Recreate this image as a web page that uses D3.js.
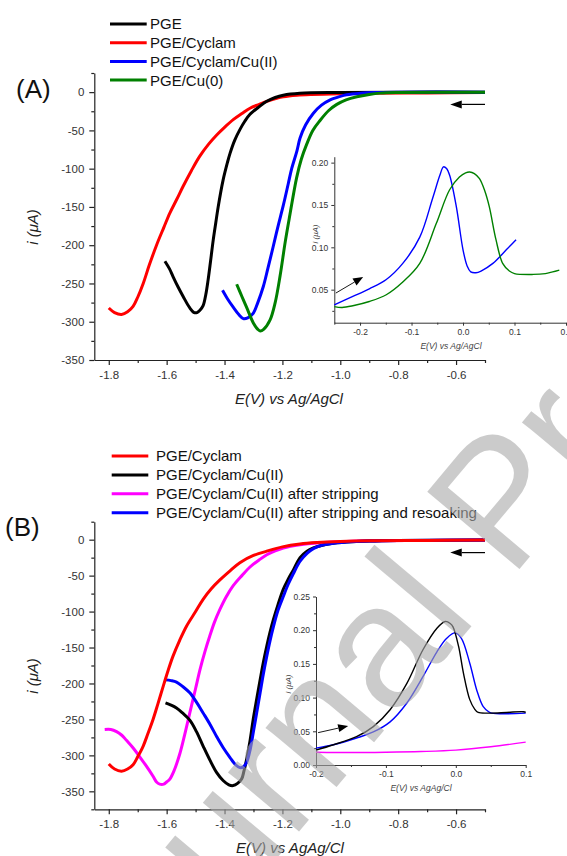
<!DOCTYPE html>
<html><head><meta charset="utf-8">
<script src="https://cdn.jsdelivr.net/npm/d3@7"></script>
<style>
html,body{margin:0;padding:0;background:#fff;}
svg{display:block;font-family:"Liberation Sans",Arial,Helvetica,sans-serif;}
</style></head><body>
<svg id="chart" width="567" height="856"></svg>
<script>
// ---------- Panel A: linear sweep voltammograms (E in V, i in µA) ----------
const aPGE = [[-1.606,-221],[-1.59,-231],[-1.578,-241],[-1.56,-255],[-1.543,-267],[-1.52,-282],[-1.505,-288],[-1.495,-288],[-1.485,-285],[-1.474,-279],[-1.465,-265],[-1.457,-246],[-1.448,-220],[-1.439,-193],[-1.43,-170],[-1.422,-150],[-1.405,-115],[-1.39,-92],[-1.381,-80],[-1.365,-63],[-1.347,-49],[-1.33,-38],[-1.312,-29],[-1.28,-19],[-1.254,-12],[-1.225,-7],[-1.197,-4],[-1.14,-1.5],[-1.0,-0.5],[-0.8,0],[-0.5,0]];
const aCyclam = [[-1.80,-282],[-1.78,-288],[-1.756,-290.5],[-1.735,-287],[-1.716,-280],[-1.70,-268],[-1.681,-250],[-1.66,-226],[-1.635,-200],[-1.61,-177],[-1.589,-158],[-1.565,-140],[-1.543,-123],[-1.515,-103],[-1.486,-84],[-1.455,-68],[-1.427,-56],[-1.40,-46],[-1.37,-36],[-1.34,-28],[-1.312,-21],[-1.28,-16],[-1.254,-12],[-1.22,-8],[-1.197,-6],[-1.15,-4],[-1.10,-3],[-1.0,-2],[-0.9,-1.5],[-0.7,-1],[-0.5,-0.5]];
const aCyclamCu2 = [[-1.407,-259],[-1.39,-270],[-1.37,-281],[-1.35,-291],[-1.335,-296],[-1.32,-295],[-1.301,-289],[-1.285,-275],[-1.266,-254],[-1.25,-230],[-1.232,-202],[-1.215,-175],[-1.197,-148],[-1.18,-120],[-1.168,-100],[-1.15,-77],[-1.139,-60],[-1.12,-43],[-1.093,-27.5],[-1.065,-17],[-1.035,-10],[-1.0,-5.5],[-0.978,-3.5],[-0.93,-1.5],[-0.885,-0.5],[-0.8,0],[-0.5,0]];
const aCu0 = [[-1.358,-251],[-1.34,-267],[-1.324,-281],[-1.30,-302],[-1.285,-310],[-1.277,-312],[-1.265,-310],[-1.243,-298],[-1.225,-275],[-1.208,-240],[-1.19,-195],[-1.174,-160],[-1.151,-112],[-1.135,-88],[-1.116,-68],[-1.095,-50],[-1.07,-37],[-1.04,-24],[-1.012,-16],[-0.98,-10],[-0.943,-6],[-0.9,-3],[-0.862,-1.3],[-0.8,-0.5],[-0.5,0]];

// Panel A inset: anodic stripping (E in V, i in µA)
const aInsetCyclamCu2 = [[-0.25,0.032],[-0.214,0.042],[-0.182,0.051],[-0.149,0.062],[-0.117,0.081],[-0.084,0.112],[-0.059,0.158],[-0.045,0.185],[-0.038,0.195],[-0.032,0.193],[-0.026,0.185],[-0.013,0.148],[0.0,0.097],[0.008,0.078],[0.015,0.071],[0.025,0.070],[0.035,0.072],[0.058,0.081],[0.084,0.097],[0.103,0.109]];
const aInsetCu0 = [[-0.25,0.030],[-0.235,0.029],[-0.214,0.031],[-0.182,0.036],[-0.149,0.044],[-0.117,0.059],[-0.084,0.081],[-0.052,0.128],[-0.026,0.168],[-0.007,0.183],[0.005,0.188],[0.013,0.189],[0.022,0.187],[0.032,0.181],[0.042,0.167],[0.051,0.148],[0.064,0.109],[0.077,0.081],[0.09,0.072],[0.1,0.069],[0.136,0.068],[0.16,0.069],[0.174,0.071],[0.187,0.073]];

// ---------- Panel B ----------
const bCyclam = [[-1.80,-312],[-1.78,-319],[-1.756,-322],[-1.735,-319],[-1.716,-313],[-1.70,-302],[-1.681,-287],[-1.665,-270],[-1.647,-250],[-1.63,-228],[-1.612,-204],[-1.595,-182],[-1.578,-162],[-1.555,-140],[-1.531,-120],[-1.50,-100],[-1.474,-83],[-1.445,-68],[-1.416,-56],[-1.38,-43],[-1.347,-32],[-1.30,-22],[-1.254,-16],[-1.20,-10],[-1.139,-6],[-1.08,-4],[-1.0,-2.5],[-0.9,-1.5],[-0.7,-1],[-0.5,-0.5]];
const bCyclamCu2 = [[-1.604,-227],[-1.585,-230],[-1.566,-234],[-1.545,-241],[-1.52,-251],[-1.497,-267],[-1.474,-287],[-1.45,-307],[-1.427,-324],[-1.405,-335],[-1.385,-341],[-1.37,-342],[-1.355,-339],[-1.341,-333],[-1.333,-322],[-1.324,-306],[-1.312,-280],[-1.301,-250],[-1.289,-222],[-1.277,-195],[-1.266,-171],[-1.254,-148],[-1.243,-129],[-1.231,-111],[-1.215,-90],[-1.197,-69],[-1.18,-55],[-1.162,-42],[-1.139,-25],[-1.115,-16],[-1.093,-11.5],[-1.065,-8],[-1.035,-5.6],[-0.978,-3.3],[-0.9,-1.8],[-0.8,-1],[-0.5,-0.5]];
const bStripped = [[-1.814,-264],[-1.793,-264],[-1.773,-267],[-1.755,-272],[-1.739,-279],[-1.715,-290],[-1.693,-302],[-1.67,-315],[-1.647,-329],[-1.635,-337],[-1.624,-340],[-1.61,-340],[-1.6,-337],[-1.589,-333],[-1.575,-322],[-1.554,-297],[-1.537,-270],[-1.52,-241],[-1.50,-207],[-1.485,-181],[-1.468,-156],[-1.451,-134],[-1.435,-115],[-1.416,-97],[-1.395,-80],[-1.37,-64],[-1.34,-50],[-1.312,-38],[-1.28,-28],[-1.254,-21],[-1.225,-15.5],[-1.197,-11.5],[-1.139,-7],[-1.08,-4.5],[-1.0,-3],[-0.9,-1.5],[-0.7,-1],[-0.5,-0.5]];
const bResoaked = [[-1.604,-195],[-1.585,-196],[-1.566,-198],[-1.545,-204],[-1.52,-213],[-1.497,-226],[-1.474,-241],[-1.45,-257],[-1.427,-274],[-1.405,-289],[-1.381,-303],[-1.362,-313],[-1.347,-317],[-1.335,-316],[-1.324,-310],[-1.312,-293],[-1.301,-269],[-1.289,-241],[-1.277,-213],[-1.266,-187],[-1.254,-162],[-1.243,-141],[-1.231,-121],[-1.215,-98],[-1.197,-79],[-1.18,-62],[-1.162,-47],[-1.139,-30],[-1.115,-19],[-1.093,-12.5],[-1.065,-8],[-1.035,-5.6],[-0.978,-3.3],[-0.9,-1.8],[-0.8,-1],[-0.5,-0.5]];

// Panel B inset
const bInsetCyclamCu2 = [[-0.2,0.022],[-0.175,0.030],[-0.142,0.042],[-0.118,0.057],[-0.094,0.082],[-0.07,0.121],[-0.047,0.171],[-0.027,0.203],[-0.015,0.213],[-0.008,0.210],[-0.004,0.205],[0.004,0.176],[0.011,0.136],[0.02,0.097],[0.027,0.083],[0.032,0.078],[0.049,0.077],[0.073,0.078],[0.097,0.079],[0.1,0.078]];
const bInsetResoaked = [[-0.2,0.025],[-0.175,0.030],[-0.142,0.040],[-0.118,0.049],[-0.094,0.064],[-0.07,0.092],[-0.047,0.131],[-0.027,0.168],[-0.013,0.188],[-0.001,0.196],[0.008,0.188],[0.02,0.151],[0.03,0.111],[0.039,0.087],[0.047,0.079],[0.051,0.077],[0.073,0.076],[0.1,0.077]];
const bInsetStripped = [[-0.2,0.019],[-0.15,0.0185],[-0.1,0.019],[-0.05,0.020],[0.0,0.022],[0.05,0.027],[0.1,0.034]];

// Sweep-direction arrows [tail, head] in data units
const arrowMainA = [[-0.5,-16],[-0.62,-16]];
const arrowMainB = [[-0.5,-18],[-0.62,-18]];
const arrowInsetA = [[-0.247,0.046],[-0.194,0.065]];
const arrowInsetB = [[-0.197,0.048],[-0.154,0.058]];

// Tick values
const xTicksMain = [-1.8,-1.6,-1.4,-1.2,-1.0,-0.8,-0.6];
const yTicksMain = [-350,-300,-250,-200,-150,-100,-50,0];
const xTicksInsetA = [-0.2,-0.1,0.0,0.1,0.2];
const yTicksInsetA = [0.05,0.10,0.15,0.20];
const xTicksInsetB = [-0.2,-0.1,0.0,0.1];
const yTicksInsetB = [0.00,0.05,0.10,0.15,0.20,0.25];

// Legends
const legendA = ["PGE","PGE/Cyclam","PGE/Cyclam/Cu(II)","PGE/Cu(0)"];
const legendAColors = ["#000000","#ff0000","#0000ff","#008000"];
const legendB = ["PGE/Cyclam","PGE/Cyclam/Cu(II)","PGE/Cyclam/Cu(II) after stripping","PGE/Cyclam/Cu(II) after stripping and resoaking"];
const legendBColors = ["#ff0000","#000000","#ff00ff","#0000ff"];

const svg = d3.select("#chart");
svg.append("rect").attr("width",567).attr("height",856).attr("fill","#fff");

function lineFor(x, y){
  return d3.line().x(d=>x(d[0])).y(d=>y(d[1])).curve(d3.curveCatmullRom.alpha(0.5));
}

function axes(g, x, y, o){
  const y0 = y.range()[0], x0 = x.range()[0];
  g.append("g").attr("transform",`translate(0,${y0})`)
    .call(d3.axisBottom(x).tickValues(o.xMajor).tickSize(o.tick).tickSizeOuter(0).tickPadding(o.xPad).tickFormat(o.xFmt));
  g.append("g").attr("transform",`translate(0,${y0})`)
    .call(d3.axisBottom(x).tickValues(o.xMinor).tickSize(o.minor).tickSizeOuter(0).tickFormat(""))
    .select(".domain").remove();
  g.append("g").attr("transform",`translate(${x0},0)`)
    .call(d3.axisLeft(y).tickValues(o.yMajor).tickSize(o.tick).tickSizeOuter(0).tickPadding(o.yPad).tickFormat(o.yFmt));
  g.append("g").attr("transform",`translate(${x0},0)`)
    .call(d3.axisLeft(y).tickValues(o.yMinor).tickSize(o.minor).tickSizeOuter(0).tickFormat(""))
    .select(".domain").remove();
  g.selectAll(".domain,.tick line").attr("stroke",o.axisColor).attr("stroke-width",o.axisWidth);
  g.selectAll(".tick text").attr("fill",o.textColor).style("font-size",o.fontSize+"px")
    .style("font-family",'"Liberation Sans",Arial,sans-serif');
}

function arrow(g, x, y, pts, o){
  const [t,h] = pts;
  const x1=x(t[0]), y1=y(t[1]), x2=x(h[0]), y2=y(h[1]);
  const ang = Math.atan2(y2-y1, x2-x1);
  const L=o.len, W=o.half;
  const bx = x2 - L*Math.cos(ang), by = y2 - L*Math.sin(ang);
  g.append("line").attr("x1",x1).attr("y1",y1).attr("x2",bx).attr("y2",by)
    .attr("stroke","#000").attr("stroke-width",o.sw);
  const px=-Math.sin(ang)*W, py=Math.cos(ang)*W;
  g.append("path").attr("d",`M${x2},${y2}L${bx+px},${by+py}L${bx-px},${by-py}Z`).attr("fill","#000");
}

const mainOpts = {tick:5, minor:3, xPad:6, yPad:5, axisColor:"#222", axisWidth:1.2, textColor:"#333", fontSize:11.5,
  xMajor:xTicksMain, xMinor:[-1.7,-1.5,-1.3,-1.1,-0.9,-0.7,-0.5], xFmt:d=>d.toFixed(1), yFmt:d=>String(d)};

// ================= Panel A =================
const gA = svg.append("g");
const xA = d3.scaleLinear().domain([-1.85,-0.5]).range([94.3,485]);
const yA = d3.scaleLinear().domain([-350,25]).range([360,73]);
axes(gA, xA, yA, Object.assign({}, mainOpts, {yMajor:yTicksMain, yMinor:[-325,-275,-225,-175,-125,-75,-25,25]}));
const lA = lineFor(xA,yA);
[[aCyclam,"#ff0000"],[aPGE,"#000000"],[aCyclamCu2,"#0000ff"],[aCu0,"#008000"]].forEach(([d,c])=>{
  gA.append("path").datum(d).attr("d",lA).attr("fill","none").attr("stroke",c).attr("stroke-width",3).attr("stroke-linejoin","round");
});
arrow(gA, xA, yA, arrowMainA, {len:11.5, half:4, sw:1.2});

gA.append("text").attr("x",16).attr("y",98).style("font-size","26px").attr("fill","#111").text("(A)");
gA.append("text").attr("x",289).attr("y",404).attr("text-anchor","middle").style("font-size","15px").style("font-style","italic").attr("fill","#222").text("E(V) vs Ag/AgCl");
gA.append("text").attr("transform","translate(38,227) rotate(-90)").attr("text-anchor","middle").style("font-size","15px").style("font-style","italic").attr("fill","#222").text("i (μA)");

legendA.forEach((t,i)=>{
  const yy = 24 + i*18.7;
  gA.append("line").attr("x1",110).attr("x2",146.7).attr("y1",yy).attr("y2",yy).attr("stroke",legendAColors[i]).attr("stroke-width",3);
  gA.append("text").attr("x",150).attr("y",yy).attr("dy","0.36em").style("font-size","15px").attr("fill","#111").text(t);
});

// Inset A
const giA = svg.append("g");
const xiA = d3.scaleLinear().domain([-0.25,0.2]).range([334.3,566]);
const yiA = d3.scaleLinear().domain([0.011,0.207]).range([322.7,156.7]);
axes(giA, xiA, yiA, {tick:3, minor:2, xPad:3, yPad:3, axisColor:"#333", axisWidth:1, textColor:"#333", fontSize:8.5,
  xMajor:xTicksInsetA, xMinor:[-0.25,-0.15,-0.05,0.05,0.15], xFmt:d=>d.toFixed(1),
  yMajor:yTicksInsetA, yMinor:[0.025,0.075,0.125,0.175], yFmt:d=>d.toFixed(2)});
const liA = lineFor(xiA,yiA);
[[aInsetCyclamCu2,"#0000ff"],[aInsetCu0,"#008000"]].forEach(([d,c])=>{
  giA.append("path").datum(d).attr("d",liA).attr("fill","none").attr("stroke",c).attr("stroke-width",1.4);
});
arrow(giA, xiA, yiA, arrowInsetA, {len:10, half:4, sw:0.9});
giA.append("text").attr("x",451).attr("y",349).attr("text-anchor","middle").style("font-size","8.5px").style("font-style","italic").attr("fill","#444").text("E(V) vs Ag/AgCl");
giA.append("text").attr("transform","translate(318,234) rotate(-90)").attr("text-anchor","middle").style("font-size","8px").style("font-style","italic").attr("fill","#444").text("i (μA)");

// ================= Panel B =================
const gB = svg.append("g");
const xB = d3.scaleLinear().domain([-1.85,-0.5]).range([94.3,485]);
const yB = d3.scaleLinear().domain([-375,25]).range([809.3,521.7]);
axes(gB, xB, yB, Object.assign({}, mainOpts, {yMajor:yTicksMain, yMinor:[-375,-325,-275,-225,-175,-125,-75,-25,25]}));
const lB = lineFor(xB,yB);
[[bStripped,"#ff00ff"],[bCyclamCu2,"#000000"],[bResoaked,"#0000ff"],[bCyclam,"#ff0000"]].forEach(([d,c])=>{
  gB.append("path").datum(d).attr("d",lB).attr("fill","none").attr("stroke",c).attr("stroke-width",3).attr("stroke-linejoin","round");
});
arrow(gB, xB, yB, arrowMainB, {len:11.5, half:4, sw:1.2});

gB.append("text").attr("x",5).attr("y",536).style("font-size","26px").attr("fill","#111").text("(B)");
gB.append("text").attr("x",290).attr("y",853).attr("text-anchor","middle").style("font-size","15px").style("font-style","italic").attr("fill","#222").text("E(V) vs AgAg/Cl");
gB.append("text").attr("transform","translate(38,676) rotate(-90)").attr("text-anchor","middle").style("font-size","15px").style("font-style","italic").attr("fill","#222").text("i (μA)");

legendB.forEach((t,i)=>{
  const yy = 456 + i*18.9;
  gB.append("line").attr("x1",111.7).attr("x2",148.3).attr("y1",yy).attr("y2",yy).attr("stroke",legendBColors[i]).attr("stroke-width",3);
  gB.append("text").attr("x",156).attr("y",yy).attr("dy","0.36em").style("font-size","15px").attr("fill","#111").text(t);
});

// Inset B
const giB = svg.append("g");
const xiB = d3.scaleLinear().domain([-0.2,0.1]).range([316,525.7]);
const yiB = d3.scaleLinear().domain([0,0.25]).range([765,596.5]);
axes(giB, xiB, yiB, {tick:3, minor:2, xPad:3, yPad:3, axisColor:"#333", axisWidth:1, textColor:"#333", fontSize:8.5,
  xMajor:xTicksInsetB, xMinor:[-0.15,-0.05,0.05], xFmt:d=>d.toFixed(1),
  yMajor:yTicksInsetB, yMinor:[0.025,0.075,0.125,0.175,0.225], yFmt:d=>d.toFixed(2)});
const liB = lineFor(xiB,yiB);
[[bInsetStripped,"#ff00ff"],[bInsetResoaked,"#0000ff"],[bInsetCyclamCu2,"#000000"]].forEach(([d,c])=>{
  giB.append("path").datum(d).attr("d",liB).attr("fill","none").attr("stroke",c).attr("stroke-width",1.4);
});
arrow(giB, xiB, yiB, arrowInsetB, {len:10, half:4, sw:0.9});
giB.append("text").attr("x",421).attr("y",791).attr("text-anchor","middle").style("font-size","8.5px").style("font-style","italic").attr("fill","#444").text("E(V) vs AgAg/Cl");
giB.append("text").attr("transform","translate(291,684) rotate(-90)").attr("text-anchor","middle").style("font-size","8px").style("font-style","italic").attr("fill","#444").text("i (μA)");

// Diagonal page watermark, laid over everything
svg.append("text").attr("transform","translate(110,1057) rotate(-50)")
  .style("font-size","175px").attr("fill","#aaaaaa").attr("opacity",0.6)
  .style("pointer-events","none").text("Journal Pre-proof");
</script>
</body></html>
